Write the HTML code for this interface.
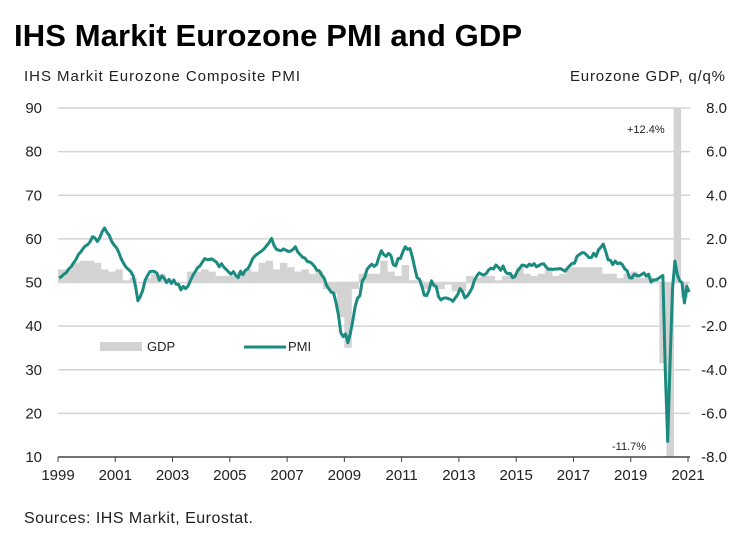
<!DOCTYPE html>
<html><head><meta charset="utf-8"><style>
body{margin:0;background:#fff;width:743px;height:530px;overflow:hidden;font-family:"Liberation Sans",Arial,sans-serif}
</style></head><body>
<svg width="743" height="530" xmlns="http://www.w3.org/2000/svg" font-family="Liberation Sans, Arial, sans-serif">
<text x="14" y="46" font-size="31" font-weight="bold" fill="#000" textLength="508">IHS Markit Eurozone PMI and GDP</text>
<text x="24" y="81" font-size="15" fill="#222" textLength="276">IHS Markit Eurozone Composite PMI</text>
<text x="570" y="81" font-size="15" fill="#222" textLength="155">Eurozone GDP, q/q%</text>
<g id="grid"></g><g id="bars"></g><g id="line"></g><g id="axes"></g>
<text x="627" y="133" font-size="11" fill="#222">+12.4%</text>
<text x="612" y="450" font-size="11" fill="#222">-11.7%</text>
<g>
<rect x="100" y="342" width="42" height="9" fill="#d3d3d3"/>
<text x="147" y="351" font-size="13" fill="#222">GDP</text>
<line x1="244" y1="347" x2="286" y2="347" stroke="#1b8a7f" stroke-width="3"/>
<text x="288" y="351" font-size="13" fill="#222">PMI</text>
</g>
<text x="24" y="523" font-size="16" fill="#222" textLength="229">Sources: IHS Markit, Eurostat.</text>
<script>
const pmiStart=1999;
const pmi=[51.0,51.4,51.9,52.3,53.1,53.6,54.5,55.2,56.4,57.0,57.8,58.4,
58.7,59.4,60.5,60.2,59.4,60.3,61.6,62.5,61.5,60.8,59.4,58.6,
58.0,56.8,55.4,54.4,53.5,53.0,52.5,51.5,49.0,45.8,46.8,48.2,
50.5,51.6,52.5,52.6,52.5,52.1,50.5,51.5,51.0,50.0,50.7,49.8,
50.6,49.6,49.6,48.3,49.1,48.6,49.2,50.4,51.6,52.5,53.4,53.8,
54.7,55.5,55.2,55.3,55.4,55.0,54.6,53.6,54.3,53.5,53.0,52.4,
51.9,52.5,51.6,51.1,52.6,51.8,52.8,53.1,54.1,55.4,56.1,56.5,
56.9,57.3,57.8,58.5,59.2,60.1,58.5,57.6,57.4,57.3,57.7,57.4,
57.1,57.2,57.6,58.2,57.0,56.4,55.8,55.6,54.8,54.7,54.3,53.7,
52.8,52.7,51.7,51.0,49.4,48.5,47.8,47.6,45.4,42.6,38.5,37.6,
38.2,36.2,38.3,41.1,44.4,46.4,47.0,50.4,51.1,53.0,53.7,54.2,
53.7,54.1,55.9,57.3,56.4,56.0,56.7,56.2,54.1,53.8,55.5,55.5,
57.0,58.2,57.6,57.8,55.8,53.3,51.1,50.7,49.1,47.1,47.0,48.3,
50.4,49.3,49.1,46.7,46.0,46.4,46.5,46.3,46.1,45.7,46.5,47.2,
48.6,47.9,46.5,46.9,47.7,48.7,50.5,51.5,52.2,51.9,51.7,52.1,
52.9,53.3,53.1,54.0,53.5,52.8,53.8,52.5,52.0,52.1,51.1,51.4,
52.6,53.3,54.0,53.9,53.6,54.2,53.9,54.3,53.6,53.9,54.2,54.3,
53.6,53.0,53.1,53.0,53.1,53.1,53.2,52.9,52.6,53.3,53.9,54.4,
54.4,56.0,56.4,56.8,56.8,56.3,55.7,55.7,56.7,56.0,57.5,58.1,
58.8,57.1,55.2,55.1,54.1,54.9,54.3,54.5,54.1,53.1,52.7,51.1,
51.0,51.9,51.6,51.5,51.8,52.2,51.5,51.9,50.1,50.6,50.6,50.9,
51.3,51.6,29.7,13.6,31.9,48.5,54.9,51.9,50.4,50.0,45.3,49.1,
47.8];
const gdp=[0.6,0.6,0.9,1.0, 1.0,0.9,0.6,0.5, 0.6,0.1,0.2,0.0, 0.2,0.4,0.4,0.1,
0.0,0.0,0.5,0.5, 0.6,0.5,0.3,0.3, 0.3,0.5,0.6,0.5, 0.9,1.0,0.6,0.9,
0.7,0.5,0.6,0.4, 0.5,-0.3,-0.5,-1.6, -3.0,-0.3,0.4,0.4, 0.4,1.0,0.5,0.3,
0.8,0.1,0.1,-0.3, -0.1,-0.3,-0.1,-0.4, -0.4,0.3,0.2,0.3, 0.3,0.1,0.3,0.4,
0.7,0.4,0.3,0.4, 0.6,0.3,0.4,0.7, 0.7,0.7,0.7,0.7, 0.4,0.4,0.2,0.4,
0.5,0.2,0.3,0.1, -3.7,-11.7,12.4,-0.7];
const leftTicks=[10,20,30,40,50,60,70,80,90];
const rightTicks=["8.0","6.0","4.0","2.0","0.0","-2.0","-4.0","-6.0","-8.0"];
const yearTicks=[1999,2001,2003,2005,2007,2009,2011,2013,2015,2017,2019,2021];
const NS="http://www.w3.org/2000/svg";
const X0=58,X1=688,Y0=108,Y1=457;
const xs=t=>X0+(t-1999)/22*(X1-X0);
const yl=v=>Y1-(v-10)/80*(Y1-Y0);
const yr=v=>Y1-(v+8)/16*(Y1-Y0);
function mk(tag,attrs,parent){const e=document.createElementNS(NS,tag);for(const k in attrs)e.setAttribute(k,attrs[k]);document.getElementById(parent).appendChild(e);return e;}
leftTicks.forEach((v,i)=>{
 if(v>10){const g=mk('line',{x1:X0,x2:X1+2,y1:yl(v),y2:yl(v),stroke:'#d4d4d4','stroke-width':1.5},'grid');
 
 }
 const t=mk('text',{x:42,y:yl(v)+5,'font-size':15,'text-anchor':'end',fill:'#222'},'axes');t.textContent=v;
 
 
 const r=mk('text',{x:727,y:yl(v)+5,'font-size':15,'text-anchor':'end',fill:'#222'},'axes');r.textContent=rightTicks[leftTicks.length-1-i];
 
 
});
const bw=(X1-X0)/88;
gdp.forEach((v,i)=>{
 const t=1999+i/4;
 const vc=Math.max(-8,Math.min(8,v));
 const y=Math.min(yr(0),yr(vc)),h=Math.abs(yr(vc)-yr(0));
 const b=mk('rect',{x:xs(t),y:y,width:bw+0.3,height:h,fill:'#d3d3d3'},'bars');
 
 
});
const pts=pmi.map((v,i)=>xs(pmiStart+(i+0.5)/12).toFixed(1)+','+yl(v).toFixed(1)).join(' ');
const pl=mk('polyline',{points:pts,fill:'none',stroke:'#1b8a7f','stroke-width':3,'stroke-linejoin':'round'},'line');


const ax=mk('line',{x1:X0,x2:X1+2,y1:Y1,y2:Y1,stroke:'#444','stroke-width':1.5},'axes');


yearTicks.forEach(y=>{
 const tk=mk('line',{x1:xs(y),x2:xs(y),y1:Y1,y2:Y1+5,stroke:'#444'},'axes');
 
 
 const t=mk('text',{x:xs(y),y:Y1+23,'font-size':15,'text-anchor':'middle',fill:'#222'},'axes');t.textContent=y;
 
 
});
</script>
</svg>
</body></html>
